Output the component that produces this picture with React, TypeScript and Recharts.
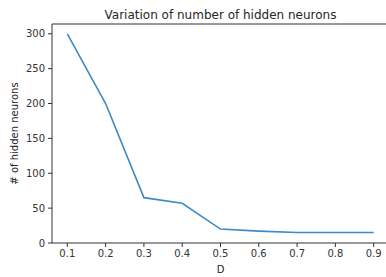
import { LineChart, Line, XAxis, YAxis, ReferenceLine } from 'recharts';

// values
const dValues = [0.1, 0.2, 0.3, 0.4, 0.5, 0.6, 0.7, 0.8, 0.9];
const hiddenNeurons = [300, 200, 65, 57, 20, 17, 15, 15, 15];
const xTicks = [0.1, 0.2, 0.3, 0.4, 0.5, 0.6, 0.7, 0.8, 0.9];
const yTicks = [0, 50, 100, 150, 200, 250, 300];

const data = dValues.map((d, i) => ({ d, n: hiddenNeurons[i] }));

const FONT = '"DejaVu Sans", sans-serif';
const AXIS = '#333333';

export default function App() {
  return (
    <div style={{ position: 'absolute', top: 0, left: 0, width: 386, height: 277, overflow: 'hidden', background: '#fff' }}>
      <LineChart width={400} height={277} data={data} margin={{ top: 24, right: 11, left: 0, bottom: 0 }}>
        <XAxis
          dataKey="d"
          type="number"
          domain={[0.06, 0.94]}
          ticks={xTicks}
          tickFormatter={(v: number) => v.toFixed(1)}
          allowDataOverflow
          height={34}
          stroke={AXIS}
          tickSize={4}
          tickMargin={3}
          tick={{ fill: '#333', fontSize: 10, fontFamily: FONT }}
          label={{ value: 'D', position: 'insideBottom', offset: 4, fill: '#262626', fontSize: 10, fontFamily: FONT }}
        />
        <YAxis
          type="number"
          domain={[0, 314]}
          ticks={yTicks}
          allowDataOverflow
          width={52}
          stroke={AXIS}
          tickSize={4}
          tickMargin={3}
          tick={{ fill: '#333', fontSize: 10, fontFamily: FONT }}
          label={{ value: '# of hidden neurons', angle: -90, position: 'insideLeft', offset: 14, style: { textAnchor: 'middle' }, fill: '#262626', fontSize: 10, fontFamily: FONT }}
        />
        <ReferenceLine y={314} stroke={AXIS} />
        <ReferenceLine x={0.94} stroke={AXIS} />
        <Line type="linear" dataKey="n" stroke="#3d8ac6" strokeWidth={1.6} dot={false} isAnimationActive={false} />
      </LineChart>
      <div style={{ position: 'absolute', top: 8, left: 52, width: 337, textAlign: 'center', fontFamily: FONT, fontSize: 12, lineHeight: '14px', color: '#262626' }}>
        Variation of number of hidden neurons
      </div>
    </div>
  );
}
